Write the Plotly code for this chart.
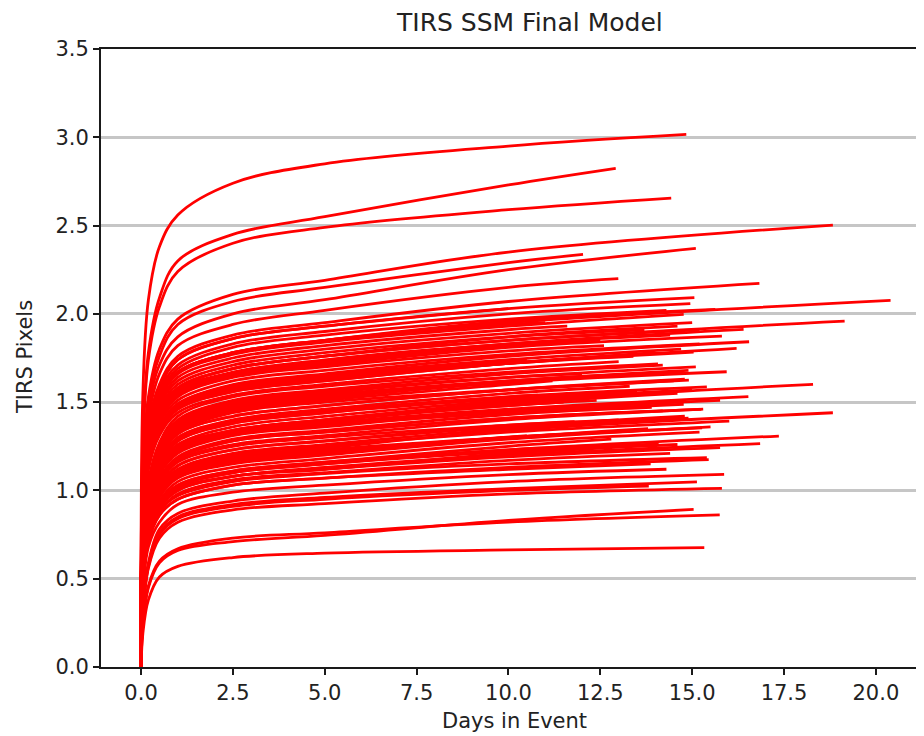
import plotly.graph_objects as go

KNOT_DAYS = [0.0, 0.05, 0.2, 0.5, 1.0, 2.5, 5.0, 10.0]

# TIRS pixel values of each curve at KNOT_DAYS (None = curve ends before that knot)
CURVE_PIXELS = [
    [0, 0.19, 0.38, 0.51, 0.57, 0.62, 0.645, 0.663],
    [0, 0.24, 0.45, 0.59, 0.66, 0.71, 0.745, 0.83],
    [0, 0.24, 0.46, 0.60, 0.67, 0.73, 0.76, 0.82],
    [0, 0.30, 0.56, 0.73, 0.82, 0.89, 0.925, 0.98],
    [0, 0.30, 0.57, 0.75, 0.84, 0.91, 0.95, 1.00],
    [0, 0.31, 0.58, 0.76, 0.85, 0.92, 0.96, 1.01],
    [0, 0.32, 0.59, 0.78, 0.87, 0.94, 0.985, 1.05],
    [0, 0.45, 0.71, 0.86, 0.95, 1.03, 1.07, 1.12],
    [0, 0.45, 0.71, 0.86, 0.95, 1.03, 1.07, 1.13],
    [0, 0.46, 0.72, 0.88, 0.97, 1.05, 1.095, 1.15],
    [0, 0.47, 0.74, 0.90, 1.00, 1.08, 1.12, 1.19],
    [0, 0.47, 0.75, 0.90, 1.01, 1.08, 1.13, 1.20],
    [0, 0.48, 0.76, 0.92, 1.02, 1.10, 1.15, 1.23],
    [0, 0.52, 0.81, 0.98, 1.09, 1.18, 1.23, 1.30],
    [0, 0.52, 0.82, 1.00, 1.11, 1.20, 1.25, 1.33],
    [0, 0.52, 0.82, 0.99, 1.10, 1.19, 1.24, 1.34],
    [0, 0.56, 0.88, 1.06, 1.18, 1.28, 1.33, 1.41],
    [0, 0.58, 0.90, 1.10, 1.22, 1.32, 1.37, 1.44],
    [0, 0.58, 0.90, 1.10, 1.22, 1.32, 1.37, 1.45],
    [0, 0.58, 0.91, 1.10, 1.23, 1.32, 1.38, 1.46],
    [0, 0.61, 0.96, 1.16, 1.29, 1.39, 1.45, 1.53],
    [0, 0.59, 0.92, 1.12, 1.25, 1.34, 1.40, 1.50],
    [0, 0.63, 0.99, 1.20, 1.33, 1.44, 1.50, 1.57],
    [0, 0.65, 1.02, 1.23, 1.37, 1.48, 1.54, 1.62],
    [0, 0.64, 1.00, 1.22, 1.35, 1.46, 1.52, 1.61],
    [0, 0.67, 1.05, 1.27, 1.42, 1.53, 1.59, 1.67],
    [0, 0.82, 1.14, 1.34, 1.47, 1.57, 1.63, 1.72],
    [0, 0.81, 1.13, 1.33, 1.46, 1.56, 1.62, 1.72],
    [0, 0.83, 1.16, 1.36, 1.49, 1.60, 1.66, 1.76],
    [0, 0.86, 1.20, 1.40, 1.54, 1.65, 1.71, 1.81],
    [0, 0.87, 1.21, 1.42, 1.56, 1.66, 1.73, 1.83],
    [0, 0.92, 1.29, 1.51, 1.66, 1.77, 1.84, 1.93],
    [0, 0.93, 1.30, 1.52, 1.67, 1.78, 1.85, 1.96],
    [0, 0.95, 1.33, 1.56, 1.71, 1.83, 1.90, 2.00],
    [0, 0.97, 1.35, 1.58, 1.74, 1.86, 1.93, 2.03],
    [0, 0.93, 1.30, 1.52, 1.67, 1.78, 1.85, 1.95],
    [0, 0.98, 1.37, 1.60, 1.76, 1.88, 1.95, 2.07],
    [0, 1.01, 1.41, 1.66, 1.82, 1.94, 2.02, 2.15],
    [0, 1.04, 1.46, 1.71, 1.87, 2.00, 2.08, 2.25],
    [0, 1.08, 1.50, 1.76, 1.94, 2.07, 2.15, 2.29],
    [0, 1.10, 1.53, 1.80, 1.97, 2.11, 2.19, 2.35],
    [0, 1.25, 1.74, 2.04, 2.24, 2.40, 2.49, 2.59],
    [0, 1.28, 1.78, 2.09, 2.30, 2.45, 2.55, 2.73],
    [0, 1.55, 2.08, 2.38, 2.56, 2.74, 2.85, 2.95],
    [0, 0.88, 1.23, 1.44, 1.58, 1.69, 1.76, 1.85],
    [0, 0.97, 1.35, 1.58, 1.74, 1.86, 1.93, None],
    [0, 0.82, 1.15, 1.34, 1.48, 1.58, 1.64, None],
    [0, 0.51, 0.81, 0.98, 1.09, 1.17, 1.22, None],
    [0, 0.48, 0.76, 0.92, 1.02, 1.10, 1.15, 1.22],
    [0, 0.56, 0.88, 1.06, 1.18, 1.28, 1.33, 1.41],
    [0, 0.60, 0.95, 1.15, 1.28, 1.38, 1.44, 1.52],
    [0, 0.62, 0.98, 1.18, 1.32, 1.42, 1.48, 1.57],
    [0, 0.55, 0.86, 1.04, 1.16, 1.25, 1.30, 1.37],
    [0, 0.43, 0.68, 0.82, 0.92, 0.99, 1.03, 1.09],
    [0, 0.86, 1.20, 1.41, 1.55, 1.65, 1.72, 1.82],
    [0, 0.88, 1.23, 1.44, 1.58, 1.69, 1.76, 1.87],
    [0, 0.51, 0.81, 0.98, 1.09, 1.17, 1.22, 1.30],
    [0, 0.59, 0.92, 1.12, 1.25, 1.34, 1.40, 1.48],
    [0, 0.81, 1.13, 1.33, 1.46, 1.56, 1.62, 1.72],
    [0, 0.46, 0.73, 0.88, 0.98, 1.06, 1.10, 1.17],
    [0, 0.66, 1.03, 1.25, 1.39, 1.50, 1.56, 1.64],
    [0, 0.54, 0.84, 1.02, 1.14, 1.23, 1.28, 1.36],
    [0, 0.93, 1.30, 1.52, 1.67, 1.78, 1.85, 1.94],
    [0, 0.59, 0.92, 1.12, 1.25, 1.34, 1.40, 1.49],
    [0, 0.49, 0.77, 0.93, 1.03, 1.11, 1.16, 1.23],
    [0, 0.47, 0.74, 0.90, 1.00, 1.08, 1.12, 1.21],
    [0, 0.49, 0.77, 0.93, 1.03, 1.11, 1.16, 1.25],
    [0, 0.50, 0.78, 0.94, 1.05, 1.13, 1.18, 1.27],
    [0, 0.51, 0.80, 0.97, 1.08, 1.16, 1.21, 1.30],
    [0, 0.53, 0.83, 1.01, 1.12, 1.21, 1.26, 1.35],
    [0, 0.54, 0.84, 1.02, 1.14, 1.23, 1.28, 1.37],
    [0, 0.55, 0.86, 1.05, 1.17, 1.26, 1.31, 1.40],
    [0, 0.56, 0.88, 1.07, 1.19, 1.29, 1.34, 1.43],
    [0, 0.57, 0.90, 1.09, 1.21, 1.31, 1.36, 1.45],
    [0, 0.58, 0.92, 1.11, 1.24, 1.33, 1.39, 1.48],
    [0, 0.60, 0.94, 1.14, 1.26, 1.36, 1.42, 1.51],
    [0, 0.61, 0.96, 1.17, 1.30, 1.40, 1.46, 1.55],
    [0, 0.62, 0.98, 1.18, 1.32, 1.42, 1.48, 1.57],
    [0, 0.63, 1.00, 1.21, 1.34, 1.45, 1.51, 1.60],
    [0, 0.65, 1.02, 1.24, 1.38, 1.49, 1.55, 1.64],
    [0, 0.66, 1.04, 1.26, 1.40, 1.51, 1.57, 1.66],
    [0, 0.80, 1.12, 1.31, 1.44, 1.54, 1.60, 1.69],
    [0, 0.83, 1.16, 1.35, 1.49, 1.59, 1.65, 1.74],
    [0, 0.84, 1.18, 1.38, 1.51, 1.62, 1.68, 1.77],
    [0, 0.85, 1.19, 1.39, 1.53, 1.64, 1.70, 1.79],
    [0, 0.87, 1.22, 1.43, 1.57, 1.67, 1.74, 1.83],
    [0, 0.89, 1.25, 1.46, 1.60, 1.71, 1.78, 1.87],
    [0, 0.90, 1.26, 1.48, 1.62, 1.73, 1.80, 1.89],
    [0, 0.91, 1.27, 1.49, 1.64, 1.75, 1.82, 1.91],
    [0, 0.94, 1.32, 1.54, 1.69, 1.81, 1.88, 1.97],
    [0, 0.50, 0.79, 0.96, 1.07, 1.15, 1.20, 1.29],
    [0, 0.60, 0.95, 1.15, 1.28, 1.38, 1.44, 1.53],
    [0, 0.64, 1.01, 1.22, 1.36, 1.47, 1.53, 1.62],
    [0, 0.82, 1.14, 1.34, 1.47, 1.57, 1.63, 1.72],
    [0, 0.88, 1.23, 1.44, 1.58, 1.69, 1.76, 1.85],
]

# Last day of each event and the model value there
END_DAYS = [
    15.33, 15.04, 15.75, 15.81, 13.82, 15.13, 15.87, 13.87, 15.45, 15.40,
    15.76, 16.85, 17.36, 15.27, 16.01, 18.83, 15.25, 14.77, 15.76, 16.53,
    15.40, 18.29, 14.91, 14.77, 15.94, 14.07, 15.04, 16.21, 16.55, 15.81,
    16.40, 14.77, 15.63, 14.95, 15.06, 20.40, 16.83, 12.99, 15.10, 12.03,
    18.83, 14.43, 12.92, 14.84, 19.15, 10.00, 10.50, 10.50, 14.09, 14.20,
    13.50, 14.50, 13.00, 14.30, 12.50, 14.60, 13.80, 11.50, 14.00, 14.40,
    12.00, 14.80, 11.00, 14.60, 13.20,
    14.60, 12.80, 15.20, 13.60, 14.90, 11.80, 15.30, 13.90, 14.50, 12.40,
    15.00, 13.30, 14.80, 11.20, 15.10, 14.20, 13.00, 14.70, 15.20, 12.60,
    14.40, 13.70, 15.00, 11.60, 14.30, 15.50, 10.80, 14.90, 13.40, 15.20,
]
END_PIXELS = [
    0.676, 0.893, 0.861, 1.012, 1.025, 1.049, 1.091, 1.151, 1.174, 1.185,
    1.242, 1.265, 1.308, 1.355, 1.393, 1.440, 1.459, 1.488, 1.510, 1.531,
    1.586, 1.601, 1.625, 1.672, 1.672, 1.717, 1.784, 1.805, 1.842, 1.874,
    1.912, 1.997, 2.025, 2.058, 2.092, 2.076, 2.173, 2.199, 2.371, 2.337,
    2.503, 2.656, 2.824, 3.016, 1.959, 2.030, 1.740, 1.310, 1.263, 1.450,
    1.560, 1.620, 1.400, 1.120, 1.850, 1.930, 1.350, 1.500, 1.780, 1.210,
    1.660, 1.420, 1.950, 1.550, 1.260,
    1.26, 1.29, 1.33, 1.34, 1.41, 1.39, 1.46, 1.47, 1.50, 1.51,
    1.57, 1.59, 1.63, 1.62, 1.70, 1.71, 1.73, 1.80, 1.83, 1.82,
    1.88, 1.91, 1.95, 1.93, 2.02, 1.36, 1.54, 1.68, 1.76, 1.91,
]

X_TICKS = [0.0, 2.5, 5.0, 7.5, 10.0, 12.5, 15.0, 17.5, 20.0]
Y_TICKS = [0.0, 0.5, 1.0, 1.5, 2.0, 2.5, 3.0, 3.5]

FONT = "DejaVu Sans"
TXT = "#222222"

fig = go.Figure()
for vals, xe, ye in zip(CURVE_PIXELS, END_DAYS, END_PIXELS):
    xs, ys = [], []
    for k, v in zip(KNOT_DAYS, vals):
        if v is None or k >= xe - 0.2:
            continue
        xs.append(k)
        ys.append(v)
    xs.append(xe)
    ys.append(ye)
    fig.add_trace(go.Scatter(
        x=xs, y=ys, mode="lines",
        line=dict(color="#ff0000", width=2.8, shape="spline", smoothing=1.0),
        showlegend=False, hoverinfo="skip",
    ))

# page body adds an 8px offset, so the figure is 8px smaller on each axis
OFF = 8
W, H = 924 - OFF, 736 - OFF
L, R, T, B = 101 - OFF, 0, 49 - OFF, 736 - 667
pw, ph = W - L - R, H - T - B

def px_x(p):
    return (p - OFF - L) / pw

def px_y(p):
    return (H - B - (p - OFF)) / ph

fig.update_layout(
    width=W, height=H,
    margin=dict(l=L, r=R, t=T, b=B, pad=0),
    paper_bgcolor="white", plot_bgcolor="white",
    font=dict(family=FONT, color=TXT, size=21),
    showlegend=False,
    xaxis=dict(
        range=[-1.09, 21.31], tickvals=X_TICKS,
        ticktext=[f"{v:.1f}" for v in X_TICKS],
        showgrid=False, zeroline=False,
        showline=True, linecolor="#1a1a1a", linewidth=1.8, mirror=True,
        ticks="outside", ticklen=6, tickwidth=1.6, tickcolor="#1a1a1a",
        tickfont=dict(family=FONT, size=21, color=TXT),
    ),
    yaxis=dict(
        range=[0, 3.5], tickvals=Y_TICKS,
        ticktext=[f"{v:.1f}" for v in Y_TICKS],
        showgrid=True, gridcolor="#c6c6c6", gridwidth=2.6,
        zeroline=False,
        showline=True, linecolor="#1a1a1a", linewidth=1.8, mirror=False,
        ticks="outside", ticklen=6, tickwidth=1.6, tickcolor="#1a1a1a",
        tickfont=dict(family=FONT, size=21, color=TXT),
    ),
    annotations=[
        dict(text="TIRS SSM Final Model", x=px_x(529), y=px_y(22),
             xref="paper", yref="paper", showarrow=False,
             xanchor="center", yanchor="middle",
             font=dict(family=FONT, size=25, color=TXT)),
        dict(text="Days in Event", x=px_x(514), y=px_y(721),
             xref="paper", yref="paper", showarrow=False,
             xanchor="center", yanchor="middle",
             font=dict(family=FONT, size=21, color=TXT)),
        dict(text="TIRS Pixels", x=px_x(25), y=px_y(357),
             xref="paper", yref="paper", showarrow=False, textangle=-90,
             xanchor="center", yanchor="middle",
             font=dict(family=FONT, size=21, color=TXT)),
    ],
)

fig.write_html("out.html")
